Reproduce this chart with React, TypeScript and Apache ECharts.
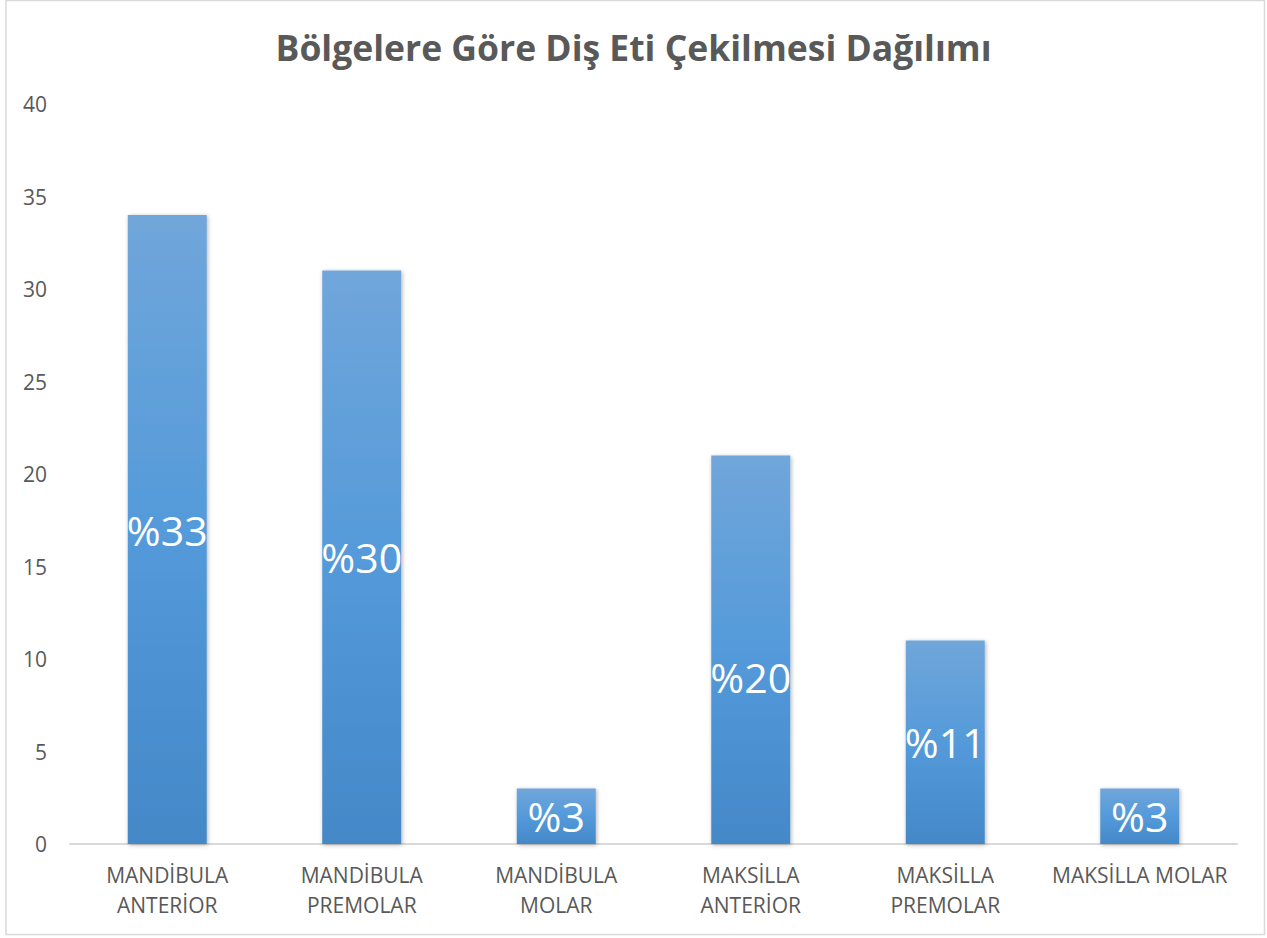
import React, { useEffect, useRef } from "react";
import * as echarts from "echarts";

const titleText = "Bölgelere Göre Diş Eti Çekilmesi Dağılımı";
const categories = [
  "MANDİBULA\nANTERİOR",
  "MANDİBULA\nPREMOLAR",
  "MANDİBULA\nMOLAR",
  "MAKSİLLA\nANTERİOR",
  "MAKSİLLA\nPREMOLAR",
  "MAKSİLLA MOLAR",
];
const values = [34, 31, 3, 21, 11, 3];
const percentLabels = ["%33", "%30", "%3", "%20", "%11", "%3"];
const labelOffsets = [0, 0, 0, 27, 0, 0];

export default function App() {
  const ref = useRef<HTMLDivElement>(null);
  useEffect(() => {
    if (!ref.current) return;
    const chart = echarts.init(ref.current, null, { renderer: "svg" });
    const font = "'Open Sans', 'Noto Sans', sans-serif";
    chart.setOption({
      animation: false,
      backgroundColor: "#ffffff",
      textStyle: { fontFamily: font },
      title: {
        text: titleText,
        left: "center",
        top: 24,
        textStyle: { fontFamily: font, fontSize: 35.5, fontWeight: "bold", color: "#595959" },
      },
      graphic: [
        {
          type: "rect",
          shape: { x: 6, y: 0.5, width: 1258.5, height: 934 },
          style: { fill: "none", stroke: "#d9d9d9", lineWidth: 1.5 },
          silent: true,
          z: -1,
        },
      ],
      grid: { left: 70, right: 30, top: 104, bottom: 94, containLabel: false },
      xAxis: {
        type: "category",
        data: categories,
        axisLine: { show: true, lineStyle: { color: "#d9d9d9", width: 2 } },
        axisTick: { show: false },
        axisLabel: {
          color: "#595959",
          fontSize: 21,
          fontFamily: font,
          lineHeight: 30,
          margin: 16,
          interval: 0,
        },
      },
      yAxis: {
        type: "value",
        min: 0,
        max: 40,
        interval: 5,
        axisLine: { show: false },
        axisTick: { show: false },
        splitLine: { show: false },
        axisLabel: { color: "#595959", fontSize: 21, fontFamily: font, margin: 23 },
      },
      series: [
        {
          type: "bar",
          barWidth: 79,
          data: values.map((v, i) => ({
            value: v,
            label: {
              show: true,
              position: "inside",
              offset: [0, labelOffsets[i]],
              formatter: percentLabels[i],
              color: "#ffffff",
              fontSize: 41,
              fontFamily: font,
            },
          })),
          itemStyle: {
            color: new echarts.graphic.LinearGradient(0, 0, 0, 1, [
              { offset: 0, color: "#70a6da" },
              { offset: 0.5, color: "#549ada" },
              { offset: 1, color: "#4488c8" },
            ]),
            shadowBlur: 4,
            shadowColor: "rgba(0,0,0,0.3)",
            shadowOffsetX: 1,
            shadowOffsetY: 1,
          },
        },
      ],
    });
    return () => chart.dispose();
  }, []);
  return (
    <div
      ref={ref}
      style={{ position: "fixed", left: 0, top: 0, width: 1267, height: 938 }}
    />
  );
}
